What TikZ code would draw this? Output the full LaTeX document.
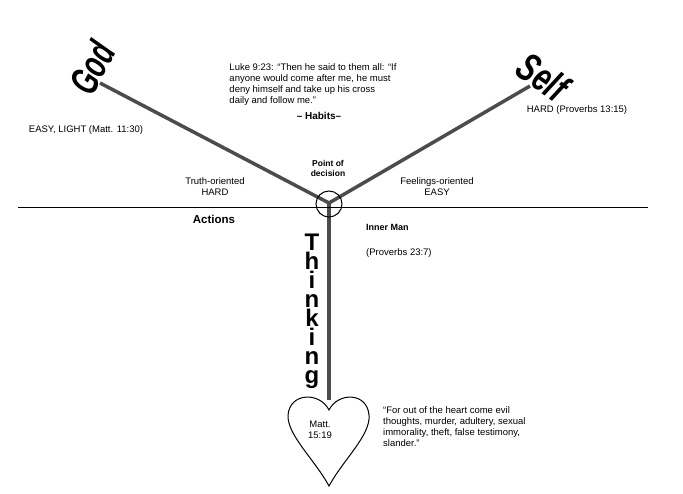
\documentclass[tikz,border=0pt]{standalone}
\usepackage{fontspec}
\setmainfont{Liberation Sans}
\begin{document}
\begin{tikzpicture}[x=1pt,y=-1pt,
  txt/.style={font=\fontsize{9.5}{11}\selectfont,align=center,inner sep=0},
  bold/.style={txt,font=\fontsize{10}{12}\selectfont\bfseries},
  roadline/.style={line width=3.5pt,draw=black!70}]
\useasboundingbox (0,0) rectangle (683,494);
\coordinate (god) at (100,83);
\coordinate (self) at (530,86);
\coordinate (p) at (329,203);
\coordinate (hl) at (18,207);
\coordinate (hr) at (648,207);
\coordinate (ht) at (329,400);
\draw[roadline] (god) -- (p) -- (self);
\draw[roadline] (p) -- (ht);
\draw[line width=0.9pt] (hl) -- (hr);
\node[draw,circle,line width=1pt,minimum size=26pt,inner sep=0] (dec) at (329,204) {};
\node[rotate=62,font=\fontsize{40}{40}\selectfont\bfseries\itshape,xscale=0.65,inner sep=0] (godt) at (92,68) {God};
\node[rotate=-35,font=\fontsize{40}{40}\selectfont\bfseries\itshape,xscale=0.7,inner sep=0] (selft) at (543,77) {Self};
\node[txt,align=left] (luke) at (313,85) {Luke 9:23: ``Then he said to them all: ``If\\anyone would come after me, he must\\deny himself and take up his cross\\daily and follow me.''};
\node[bold] (habits) at (319,116) {-- Habits--};
\node[txt] (easy) at (86,130) {EASY, LIGHT (Matt. 11:30)};
\node[txt] (hard) at (577,110) {HARD (Proverbs 13:15)};
\node[txt,font=\fontsize{8.5}{10}\selectfont\bfseries] (pod) at (328,168) {Point of\\decision};
\node[txt] (truth) at (215,187) {Truth-oriented\\HARD};
\node[txt] (feel) at (437,187) {Feelings-oriented\\EASY};
\node[bold,font=\fontsize{11.5}{13}\selectfont\bfseries] (act) at (214,219) {Actions};
\node[bold,font=\fontsize{9}{10}\selectfont\bfseries,anchor=west] (inner) at (366,227) {Inner Man};
\node[txt,anchor=west] (prov) at (366,253) {(Proverbs 23:7)};
\node[font=\fontsize{24}{19}\selectfont\bfseries,align=center,inner sep=0] (think) at (312,311) {T\\h\\i\\n\\k\\i\\n\\g};
\draw[line width=1pt] (329,410) .. controls (320,392) and (290,392) .. (288,415)
  .. controls (287,435) and (315,460) .. (329,486)
  .. controls (343,460) and (371,435) .. (369,415)
  .. controls (367,392) and (338,392) .. (329,410) -- cycle;
\node[txt] (matt) at (320,430) {Matt.\\15:19};
\node[txt,align=left,anchor=north west] (quote) at (383,406) {``For out of the heart come evil\\thoughts, murder, adultery, sexual\\immorality, theft, false testimony,\\slander.''};
\end{tikzpicture}
\end{document}
